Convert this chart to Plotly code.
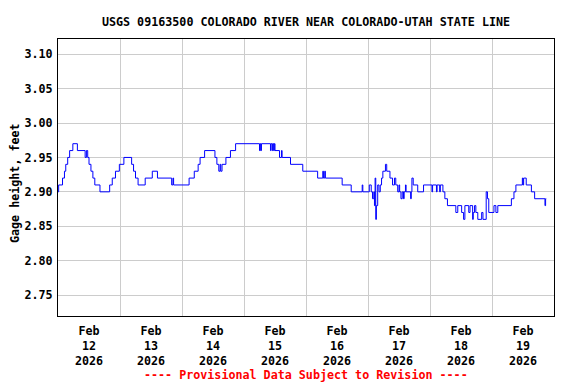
import plotly.graph_objects as go

TITLE = "USGS 09163500 COLORADO RIVER NEAR COLORADO-UTAH STATE LINE"
Y_LABEL = "Gage height, feet"
NOTE = "---- Provisional Data Subject to Revision ----"

# (date, time, gage height) change points
day12 = [("00:00", 2.90), ("00:15", 2.91), ("01:45", 2.92), ("02:30", 2.93), ("03:00", 2.94),
         ("03:45", 2.95), ("04:30", 2.96), ("05:45", 2.97), ("07:30", 2.96), ("10:30", 2.95),
         ("11:00", 2.96), ("11:30", 2.95), ("12:00", 2.94), ("12:45", 2.93), ("13:30", 2.92),
         ("14:15", 2.91), ("16:15", 2.90), ("20:00", 2.91), ("21:00", 2.92), ("22:15", 2.93),
         ("23:45", 2.94)]
day13 = [("01:30", 2.95), ("04:30", 2.94), ("05:15", 2.93), ("06:00", 2.92), ("07:00", 2.91),
         ("09:45", 2.92), ("12:30", 2.93), ("14:30", 2.92), ("20:00", 2.91), ("20:30", 2.92),
         ("20:45", 2.91)]
day14 = [("02:45", 2.92), ("04:45", 2.93), ("06:15", 2.94), ("07:00", 2.95), ("08:45", 2.96),
         ("12:45", 2.95), ("13:30", 2.94), ("14:15", 2.93), ("14:45", 2.94), ("15:00", 2.93),
         ("15:30", 2.94), ("17:00", 2.95), ("18:45", 2.96), ("20:45", 2.97)]
day15 = [("06:00", 2.96), ("06:15", 2.97), ("06:30", 2.96), ("06:45", 2.97), ("10:15", 2.96),
         ("10:30", 2.97), ("11:00", 2.96), ("11:15", 2.97), ("11:30", 2.96), ("11:45", 2.97),
         ("12:00", 2.96), ("13:45", 2.95), ("14:30", 2.96), ("14:45", 2.95), ("18:00", 2.94),
         ("22:45", 2.93)]
day16 = [("04:30", 2.92), ("06:30", 2.93), ("06:45", 2.92), ("07:15", 2.93), ("07:30", 2.92),
         ("14:00", 2.91), ("17:30", 2.90), ("21:45", 2.91), ("22:00", 2.90)]
day17 = [("00:30", 2.91), ("01:15", 2.90), ("01:45", 2.89), ("02:15", 2.90), ("02:30", 2.88),
         ("02:45", 2.92), ("03:00", 2.86), ("03:15", 2.88), ("03:45", 2.91), ("04:15", 2.90),
         ("04:45", 2.91), ("05:15", 2.92), ("05:45", 2.93), ("06:45", 2.94), ("07:15", 2.93),
         ("08:30", 2.92), ("09:30", 2.91), ("10:15", 2.92), ("10:45", 2.91), ("11:30", 2.90),
         ("12:00", 2.91), ("12:15", 2.90), ("12:45", 2.89), ("13:15", 2.90), ("13:45", 2.89),
         ("14:00", 2.90), ("14:30", 2.91), ("14:45", 2.90), ("16:30", 2.89), ("16:45", 2.90),
         ("17:00", 2.92), ("17:30", 2.91), ("19:15", 2.90), ("21:30", 2.91)]
day18 = [("00:45", 2.90), ("01:00", 2.91), ("02:30", 2.90), ("02:45", 2.91), ("03:45", 2.90),
         ("04:00", 2.91), ("05:00", 2.90), ("05:45", 2.89), ("06:45", 2.88), ("10:00", 2.87),
         ("10:45", 2.88), ("12:15", 2.87), ("13:00", 2.86), ("13:30", 2.88), ("15:00", 2.87),
         ("15:30", 2.88), ("16:30", 2.86), ("16:45", 2.87), ("17:15", 2.88), ("17:45", 2.87),
         ("18:30", 2.86), ("20:00", 2.87), ("20:30", 2.86), ("21:45", 2.90), ("22:15", 2.89),
         ("22:45", 2.87)]
day19 = [("00:45", 2.88), ("01:30", 2.87), ("02:15", 2.88), ("07:30", 2.89), ("08:30", 2.90),
         ("09:15", 2.91), ("11:45", 2.92), ("12:00", 2.91), ("12:15", 2.92), ("13:15", 2.91),
         ("15:15", 2.90), ("16:30", 2.89), ("20:30", 2.88), ("20:45", 2.89), ("21:00", 2.89)]

days = [("2026-02-12", day12), ("2026-02-13", day13), ("2026-02-14", day14),
        ("2026-02-15", day15), ("2026-02-16", day16), ("2026-02-17", day17),
        ("2026-02-18", day18), ("2026-02-19", day19)]

times, heights = [], []
for d, rows in days:
    for t, v in rows:
        times.append(f"{d} {t}")
        heights.append(v)

X_RANGE = ["2026-02-12 00:00", "2026-02-20 00:00"]
Y_RANGE = [2.7195, 3.1222]

FONT = "DejaVu Sans Mono"
FS = 11.7

# The page places the figure 8px in from the top-left (default body margin),
# so the figure is 8px smaller and every position is measured from there.
OFF = 8
W, H = 576 - OFF, 384 - OFF
L, R, T, B = 50, 22, 31, 68
PW, PH = W - L - R, H - T - B

fig = go.Figure()
fig.add_trace(go.Scatter(x=times, y=heights, mode="lines",
                         line=dict(color="#0000ff", width=1, shape="hv"),
                         hoverinfo="x+y", showlegend=False))

fig.update_layout(
    width=W, height=H,
    margin=dict(l=L, r=R, t=T, b=B, autoexpand=False),
    paper_bgcolor="white", plot_bgcolor="white",
    font=dict(family=FONT, size=FS, color="black", weight="bold"),
    title=dict(text=TITLE, x=(L + PW / 2) / W, xanchor="center",
               y=1 - 14 / H, yanchor="middle", yref="container",
               font=dict(family=FONT, size=FS, color="black", weight="bold")),
    xaxis=dict(type="date", range=X_RANGE, dtick=86400000, tick0="2026-02-12",
               ticklabelmode="period", tickformat="%b<br>%d<br>%Y",
               showgrid=True, gridcolor="#cccccc", gridwidth=1,
               showline=True, linecolor="black", linewidth=1, mirror=True,
               ticks="", zeroline=False, automargin=False, ticklabelstandoff=4,
               tickfont=dict(family=FONT, size=FS, color="black", weight="bold")),
    yaxis=dict(range=Y_RANGE, dtick=0.05, tick0=2.75, tickformat=".2f",
               showgrid=True, gridcolor="#cccccc", gridwidth=1,
               showline=True, linecolor="black", linewidth=1, mirror=True,
               ticks="", zeroline=False, automargin=False, ticklabelstandoff=2,
               tickfont=dict(family=FONT, size=FS, color="black", weight="bold")),
    annotations=[
        dict(text=NOTE, xref="paper", yref="paper", x=0.5, y=-(367 - (H - B)) / PH,
             xanchor="center", yanchor="middle", showarrow=False,
             font=dict(family=FONT, size=FS, color="red", weight="bold")),
        dict(text=Y_LABEL, xref="paper", yref="paper", x=(7 - L) / PW,
             y=((H - B) - 175) / PH, xanchor="center", yanchor="middle",
             textangle=-90, showarrow=False,
             font=dict(family=FONT, size=FS, color="black", weight="bold")),
    ],
)

fig.write_html("out.html")
